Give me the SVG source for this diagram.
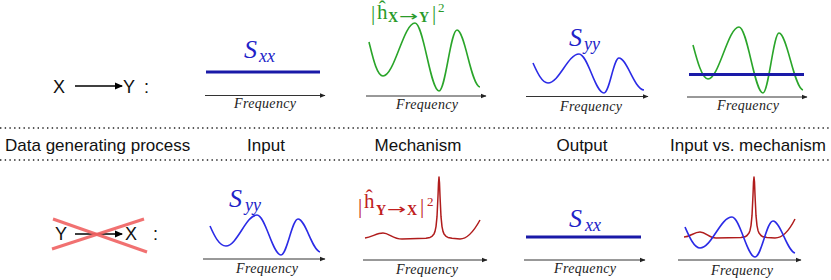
<svg xmlns="http://www.w3.org/2000/svg" width="831" height="280" viewBox="0 0 831 280">
<defs>
<marker id="ah" markerWidth="6" markerHeight="6" refX="5" refY="3" orient="auto" markerUnits="userSpaceOnUse">
<path d="M0,0.8 L5.5,3 L0,5.2 Z" fill="#222"/>
</marker>
<marker id="ahb" markerWidth="8" markerHeight="8" refX="7" refY="4" orient="auto" markerUnits="userSpaceOnUse">
<path d="M0,0.5 L8,4 L0,7.5 Z" fill="#000"/>
</marker>
</defs>
<style>
.axis{stroke:#333;stroke-width:1;fill:none;marker-end:url(#ah)}
.freq{font-family:"Liberation Serif",serif;font-style:italic;font-size:14px;fill:#222;text-anchor:middle}
.lbl{font-family:"Liberation Sans",Arial,sans-serif;font-size:17px;fill:#111}
.node{font-family:"Liberation Sans",Arial,sans-serif;font-size:18px;fill:#111}
.dot{stroke:#222;stroke-width:1.4;stroke-dasharray:1.4 3.3;fill:none}
.green{stroke:#2aa52a;stroke-width:1.6;fill:none}
.blue{stroke:#2b2be6;stroke-width:1.6;fill:none}
.red{stroke:#b01c1c;stroke-width:1.5;fill:none;stroke-linejoin:round}
.flat{stroke:#1a1aa8;stroke-width:3;fill:none}
.S{font-family:"Liberation Serif",serif;font-style:italic;font-size:26px;fill:#2222c8}
.sub{font-family:"Liberation Serif",serif;font-style:italic;font-size:18px;fill:#2222c8}
.hm{font-family:"Liberation Serif",serif;font-size:21px}
.hs{font-family:"Liberation Serif","DejaVu Serif",serif;font-weight:bold;font-size:14px}
.ha{font-family:"DejaVu Sans",sans-serif;font-size:14px}
.cross{stroke:#f06262;stroke-width:3;opacity:0.9}
.arr{stroke:#000;stroke-width:1.3;marker-end:url(#ahb)}
</style>

<g id="separators">
<line class="dot" x1="0" y1="128" x2="831" y2="128"/>
<line class="dot" x1="0" y1="160" x2="831" y2="160"/>
</g>

<g id="headers">
<text class="lbl" x="5" y="151">Data generating process</text>
<text class="lbl" x="266" y="151" text-anchor="middle">Input</text>
<text class="lbl" x="418" y="151" text-anchor="middle">Mechanism</text>
<text class="lbl" x="582" y="151" text-anchor="middle">Output</text>
<text class="lbl" x="826" y="151" text-anchor="end">Input vs. mechanism</text>
</g>

<g id="process-xy">
<text class="node" x="53" y="93">X</text>
<line class="arr" x1="75" y1="86" x2="122" y2="86"/>
<text class="node" x="123" y="93">Y</text>
<text class="node" x="144" y="93">:</text>
</g>

<g id="process-yx">
<text class="node" x="55" y="240">Y</text>
<line class="arr" x1="75" y1="234" x2="122" y2="234"/>
<text class="node" x="125" y="240">X</text>
<text class="node" x="153" y="240">:</text>
<line class="cross" x1="53" y1="219" x2="147" y2="252"/>
<line class="cross" x1="52" y1="249" x2="144" y2="219"/>
</g>

<g id="top-input">
<line class="axis" x1="205" y1="95.5" x2="325" y2="95.5"/>
<text class="freq" x="265" y="108" textLength="62">Frequency</text>
<line class="flat" x1="206" y1="72" x2="320" y2="72"/>
<text class="S" x="244" y="58">S</text>
<text class="sub" x="259" y="62">xx</text>
</g>

<g id="top-mechanism">
<line class="axis" x1="366" y1="96" x2="486" y2="96"/>
<text class="freq" x="427" y="109" textLength="62">Frequency</text>
<path class="green" d="M369,42 C373,58 377,76 383,76 C394.5,76 403.5,23 415,23 C423.6,23 430.4,91 439,91 C445.5,91 450.5,30 457,30 C465,30 471,86 480,87"/>
<g fill="#2a9a2a">
<text class="hm" x="371" y="20">|</text>
<text class="hm" x="377" y="19">ĥ</text>
<text class="hs" x="388" y="22">X</text>
<text class="ha" x="399" y="21" textLength="19" lengthAdjust="spacingAndGlyphs">→</text>
<text class="hs" x="419" y="22">Y</text>
<text class="hm" x="432" y="20">|</text>
<text class="hm" x="438" y="12" style="font-size:13px">2</text>
</g>
</g>

<g id="top-output">
<line class="axis" x1="526" y1="96.5" x2="648" y2="96.5"/>
<text class="freq" x="591" y="111" textLength="62">Frequency</text>
<path class="blue" d="M533,63 C537,72 542,83 548,83 C559,83 568,54 579,54 C588,54 595,93 604,93 C609.5,93 613.5,58 619,58 C627,58 634,89 644,90"/>
<text class="S" x="569" y="46">S</text>
<text class="sub" x="584" y="50">yy</text>
</g>

<g id="top-input-vs-mechanism">
<line class="axis" x1="687" y1="97" x2="807" y2="97"/>
<text class="freq" x="748" y="110" textLength="62">Frequency</text>
<path class="green" d="M693,45 C697,60 702,79 708,79 C719,79 728,27 739,27 C747.5,27 754.5,93 763,93 C768.5,93 773.5,33 779,33 C787,33 794,88 803,90"/>
<line class="flat" x1="689" y1="74.5" x2="804" y2="74.5"/>
</g>

<g id="bottom-input">
<line class="axis" x1="203" y1="259" x2="325" y2="259"/>
<text class="freq" x="267" y="273" textLength="62">Frequency</text>
<path class="blue" d="M210,226 C214,235 219,246 226,246 C237,246 246,215 257,215 C265.5,215 272.5,255 281,255 C287,255 292,219 298,219 C305.5,219 312,250 320,252"/>
<text class="S" x="229" y="207">S</text>
<text class="sub" x="245" y="211">yy</text>
</g>

<g id="bottom-mechanism">
<line class="axis" x1="363" y1="260" x2="487" y2="260"/>
<text class="freq" x="427" y="274" textLength="62">Frequency</text>
<path class="red" d="M365,238 C372,237 377,233 383,233 C389,233 393,239 402,239 L426,238.3 L430,237.4 L432,236.3 L434,233.9 L435,231.4 L436,226.6 L437,216.7 L438,196 L438.5,183 L439,177 L439.5,183 L440,196 L441,216.7 L442,226.6 L443,231.4 L444,233.9 L446,236.3 L448,237.4 L452,238.3 L460,239 C467,239 474,231 480,220"/>
<g fill="#c02020">
<text class="hm" x="358" y="213">|</text>
<text class="hm" x="364" y="208">ĥ</text>
<text class="hs" x="376" y="215">Y</text>
<text class="ha" x="387" y="214" textLength="19" lengthAdjust="spacingAndGlyphs">→</text>
<text class="hs" x="407" y="215">X</text>
<text class="hm" x="420" y="213">|</text>
<text class="hm" x="427" y="206" style="font-size:13px">2</text>
</g>
</g>

<g id="bottom-output">
<line class="axis" x1="524" y1="260" x2="645" y2="260"/>
<text class="freq" x="585" y="273" textLength="62">Frequency</text>
<line class="flat" x1="526" y1="237" x2="641" y2="237"/>
<text class="S" x="569" y="227">S</text>
<text class="sub" x="585" y="231">xx</text>
</g>

<g id="bottom-input-vs-mechanism">
<line class="axis" x1="678" y1="260" x2="801" y2="260"/>
<text class="freq" x="742" y="275" textLength="62">Frequency</text>
<path class="red" d="M684,237 C690,237 694,232 700,232 C706,232 709,238 716,238 L741,237.6 L745,236.8 L747,235.5 L749,233.1 L750,230.4 L751,225.6 L752,215.7 L753,195 L753.5,182 L754,177 L754.5,182 L755,195 L756,215.7 L757,225.6 L758,230.4 L759,233.1 L761,235.5 L763,236.8 L767,237.6 L775,238 C782,238 789,231 795,219"/>
<path class="blue" d="M685,227 C689,236 694,248 700,248 C711.5,248 720.5,217 732,217 C740,217 747,257 755,257 C761.5,257 766.5,221 773,221 C780.5,221 787,251 795,253"/>
</g>
</svg>
